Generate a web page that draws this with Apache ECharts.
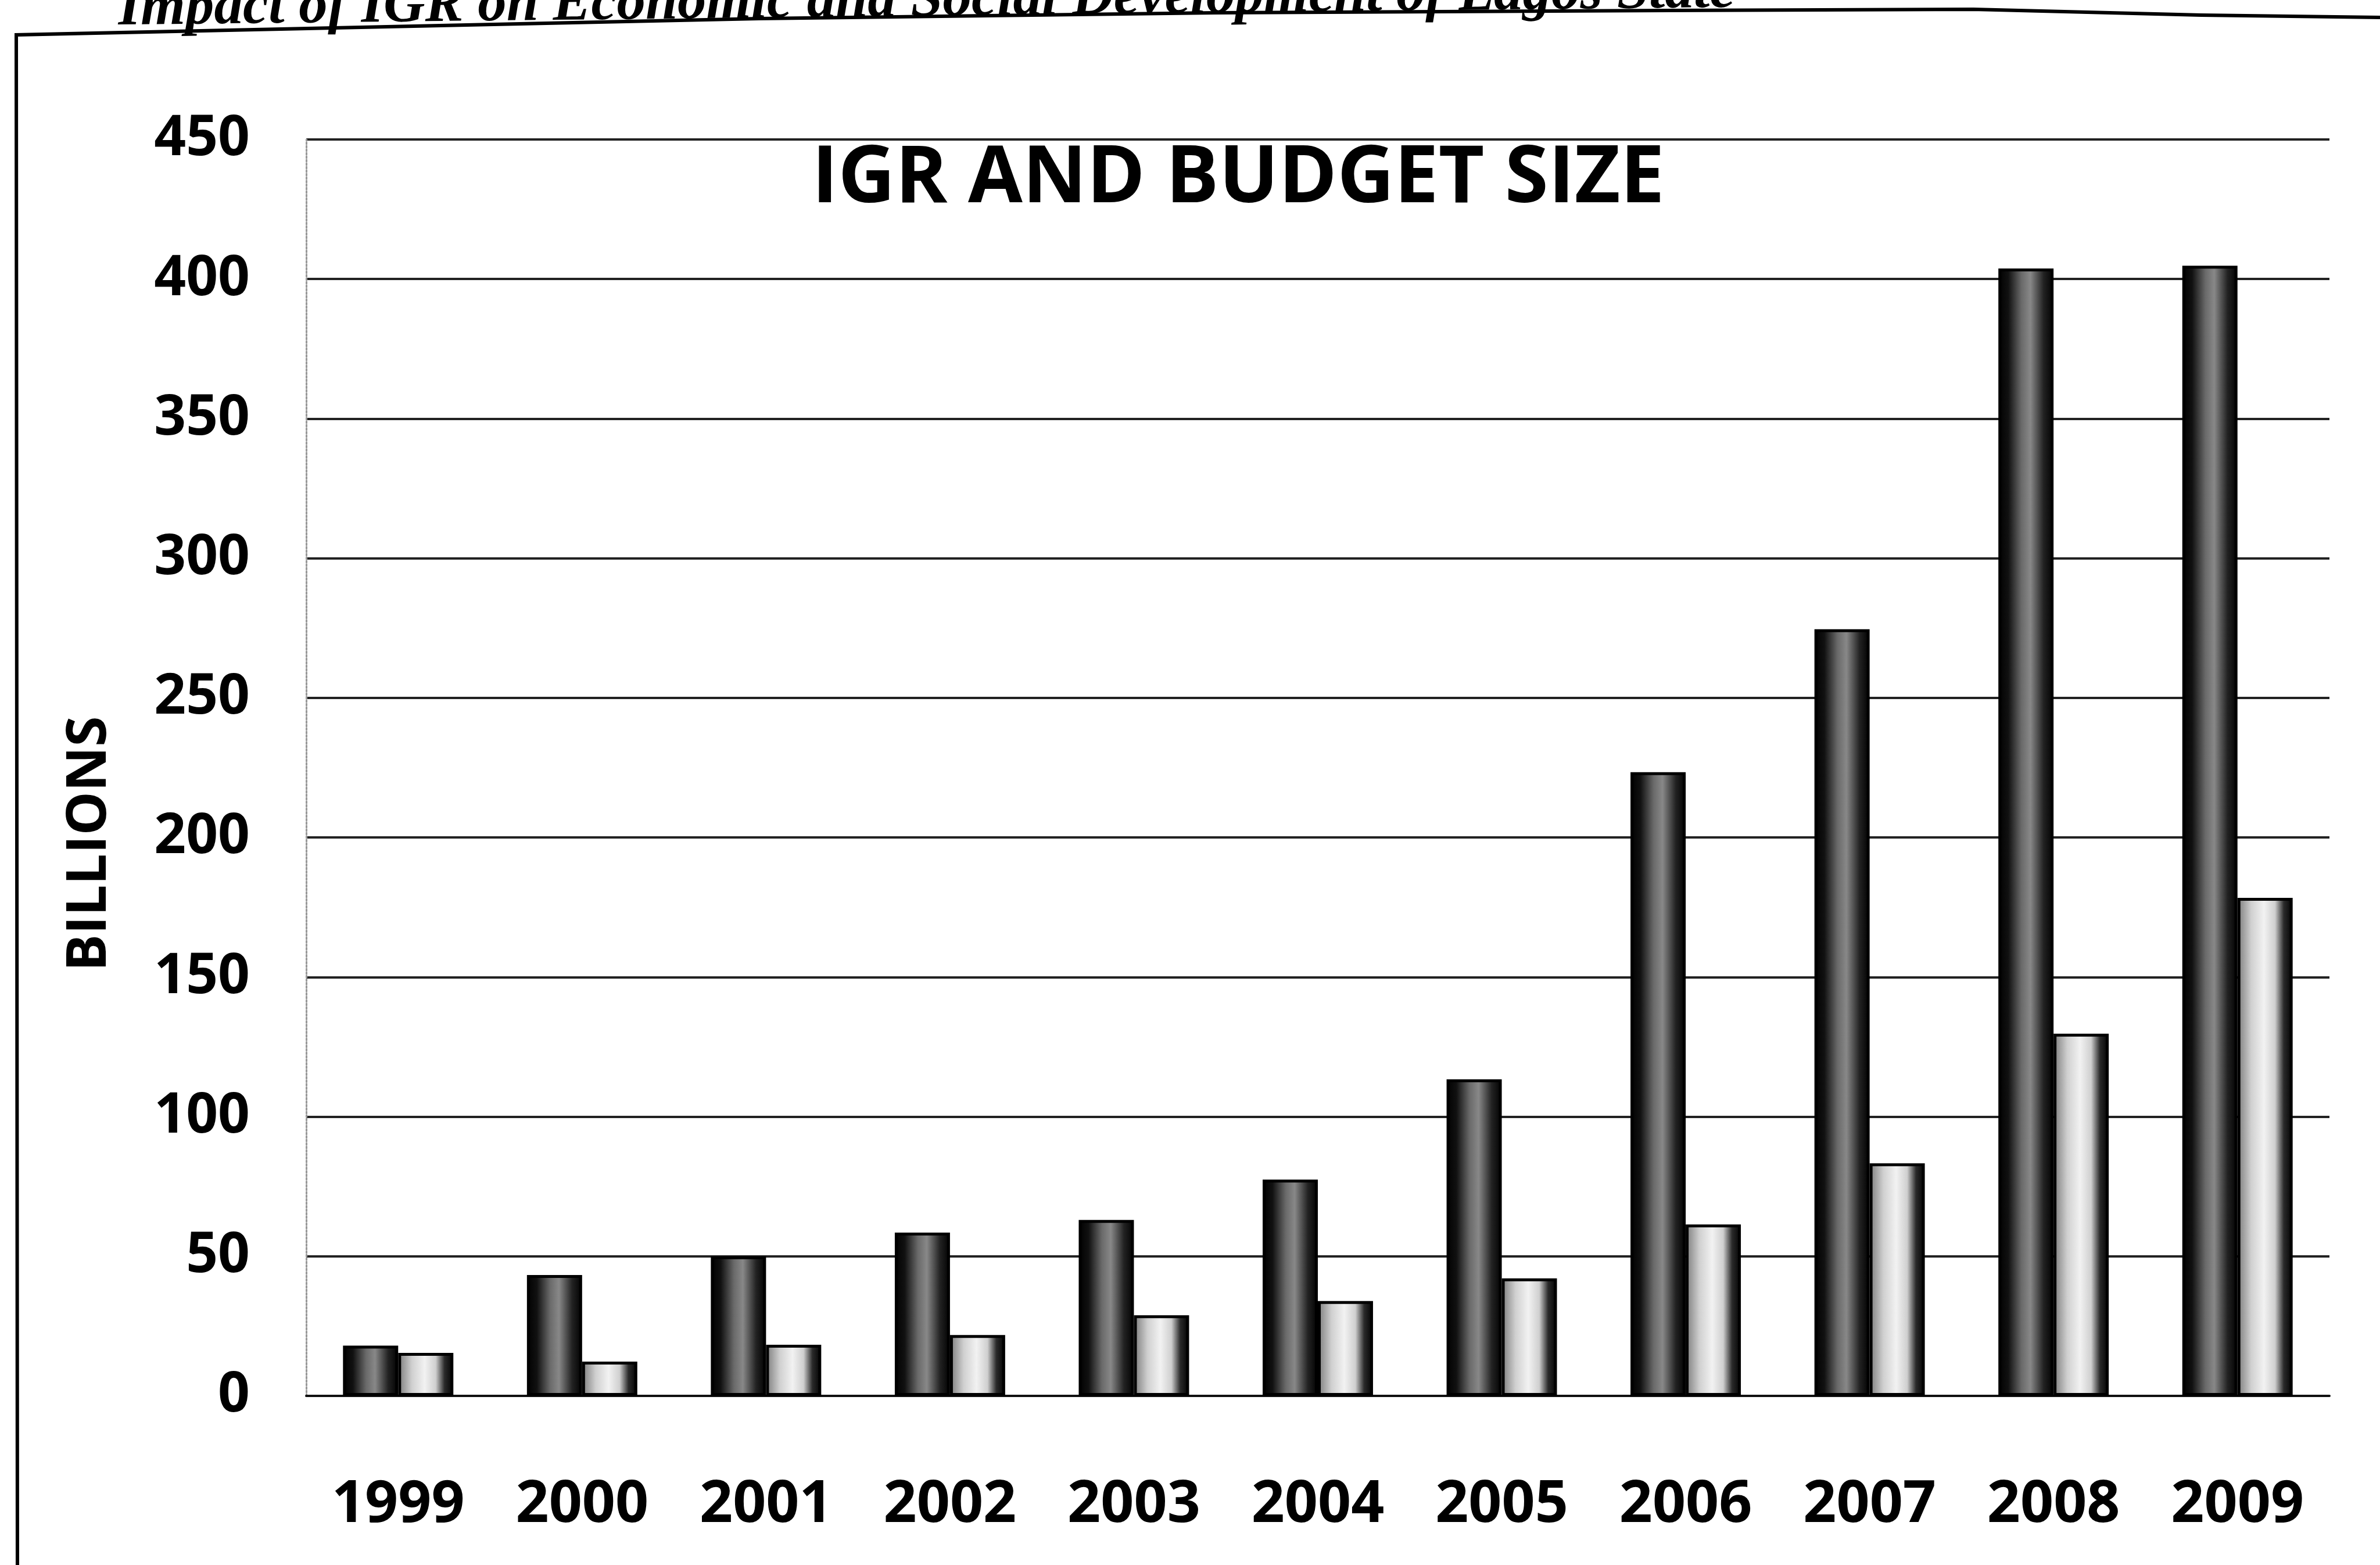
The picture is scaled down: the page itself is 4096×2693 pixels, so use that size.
<!DOCTYPE html>
<html>
<head>
<meta charset="utf-8">
<script src="https://cdn.jsdelivr.net/npm/echarts@6/dist/echarts.min.js"></script>
<style>
html,body{margin:0;padding:0;background:#fff;}
#chart{width:4096px;height:2693px;}
</style>
</head>
<body>
<div id="chart"></div>
<script>
const years = ['1999','2000','2001','2002','2003','2004','2005','2006','2007','2008','2009'];
const budgetSize = [18, 43.3, 50, 58.5, 63, 77.5, 113.4, 223.4, 274.6, 403.8, 404.8];
const igr = [15.4, 12.3, 18.3, 21.8, 28.9, 34, 42.1, 61.4, 83.3, 129.7, 178.4];
const yTicks = { min: 0, max: 450, interval: 50 };
const chartTitle = 'IGR AND BUDGET SIZE';
const yAxisTitle = 'BILLIONS';
const pageHeader = 'Impact of IGR on Economic and Social Development of Lagos State';

const FONT = "'Open Sans', 'Noto Sans', sans-serif";

const chart = echarts.init(document.getElementById('chart'), null, { renderer: 'canvas' });

const darkFill = {
  type: 'linear', x: 0, y: 0, x2: 1, y2: 0,
  colorStops: [
    { offset: 0, color: '#000' },
    { offset: 0.18, color: '#111' },
    { offset: 0.42, color: '#6a6a6a' },
    { offset: 0.58, color: '#888' },
    { offset: 0.82, color: '#222' },
    { offset: 1, color: '#000' }
  ]
};
const lightFill = {
  type: 'linear', x: 0, y: 0, x2: 1, y2: 0,
  colorStops: [
    { offset: 0, color: '#7a7a7a' },
    { offset: 0.25, color: '#d0d0d0' },
    { offset: 0.48, color: '#f2f2f2' },
    { offset: 0.68, color: '#cfcfcf' },
    { offset: 0.84, color: '#2a2a2a' },
    { offset: 1, color: '#000' }
  ]
};

const option = {
  backgroundColor: '#fff',
  animation: false,
  title: {
    text: chartTitle,
    left: 2126,
    top: 236,
    textAlign: 'center',
    textStyle: { fontFamily: FONT, fontWeight: 'bold', fontSize: 136, color: '#000' }
  },
  grid: { left: 527, right: 87, top: 240, bottom: 291, containLabel: false },
  xAxis: {
    type: 'category',
    data: years,
    axisTick: { show: false },
    axisLine: { show: true, lineStyle: { color: '#111', width: 4 } },
    axisLabel: { margin: 139, fontFamily: FONT, fontWeight: 'bold', fontSize: 100, color: '#000' }
  },
  yAxis: {
    type: 'value',
    min: yTicks.min, max: yTicks.max, interval: yTicks.interval,
    axisTick: { show: false },
    axisLine: { show: true, lineStyle: { color: '#999', width: 3, type: 'dotted' } },
    splitLine: { show: true, lineStyle: { color: '#222', width: 4 } },
    axisLabel: { margin: 97, fontFamily: FONT, fontWeight: 'bold', fontSize: 96, color: '#000' }
  },
  series: [
    {
      name: 'Budget Size', type: 'bar', data: budgetSize,
      barGap: '0%', barCategoryGap: '40%',
      itemStyle: { color: darkFill, borderColor: '#000', borderWidth: 5 }
    },
    {
      name: 'IGR', type: 'bar', data: igr,
      barGap: '0%', barCategoryGap: '40%',
      itemStyle: { color: lightFill, borderColor: '#000', borderWidth: 5 }
    }
  ],
  graphic: [
    {
      type: 'text',
      x: 155, y: 1452,
      rotation: Math.PI / 2,
      style: {
        text: yAxisTitle, fill: '#000',
        font: "bold 95px 'Open Sans', sans-serif",
        align: 'center', verticalAlign: 'middle'
      }
    },
    {
      type: 'text',
      x: 204, y: 66,
      rotation: 0.0109,
      originX: 0, originY: 0,
      style: {
        text: pageHeader, fill: '#000',
        font: "italic bold 99px 'Liberation Serif', 'DejaVu Serif', serif",
        align: 'left', verticalAlign: 'bottom'
      }
    },
    {
      type: 'polyline',
      shape: { points: [[30, 2693], [28, 60], [1306, 32], [2090, 22], [2873, 18], [3396, 16], [3788, 26], [4096, 30]] },
      style: { stroke: '#000', lineWidth: 6, fill: null }
    }
  ]
};
chart.setOption(option);
</script>
</body>
</html>
